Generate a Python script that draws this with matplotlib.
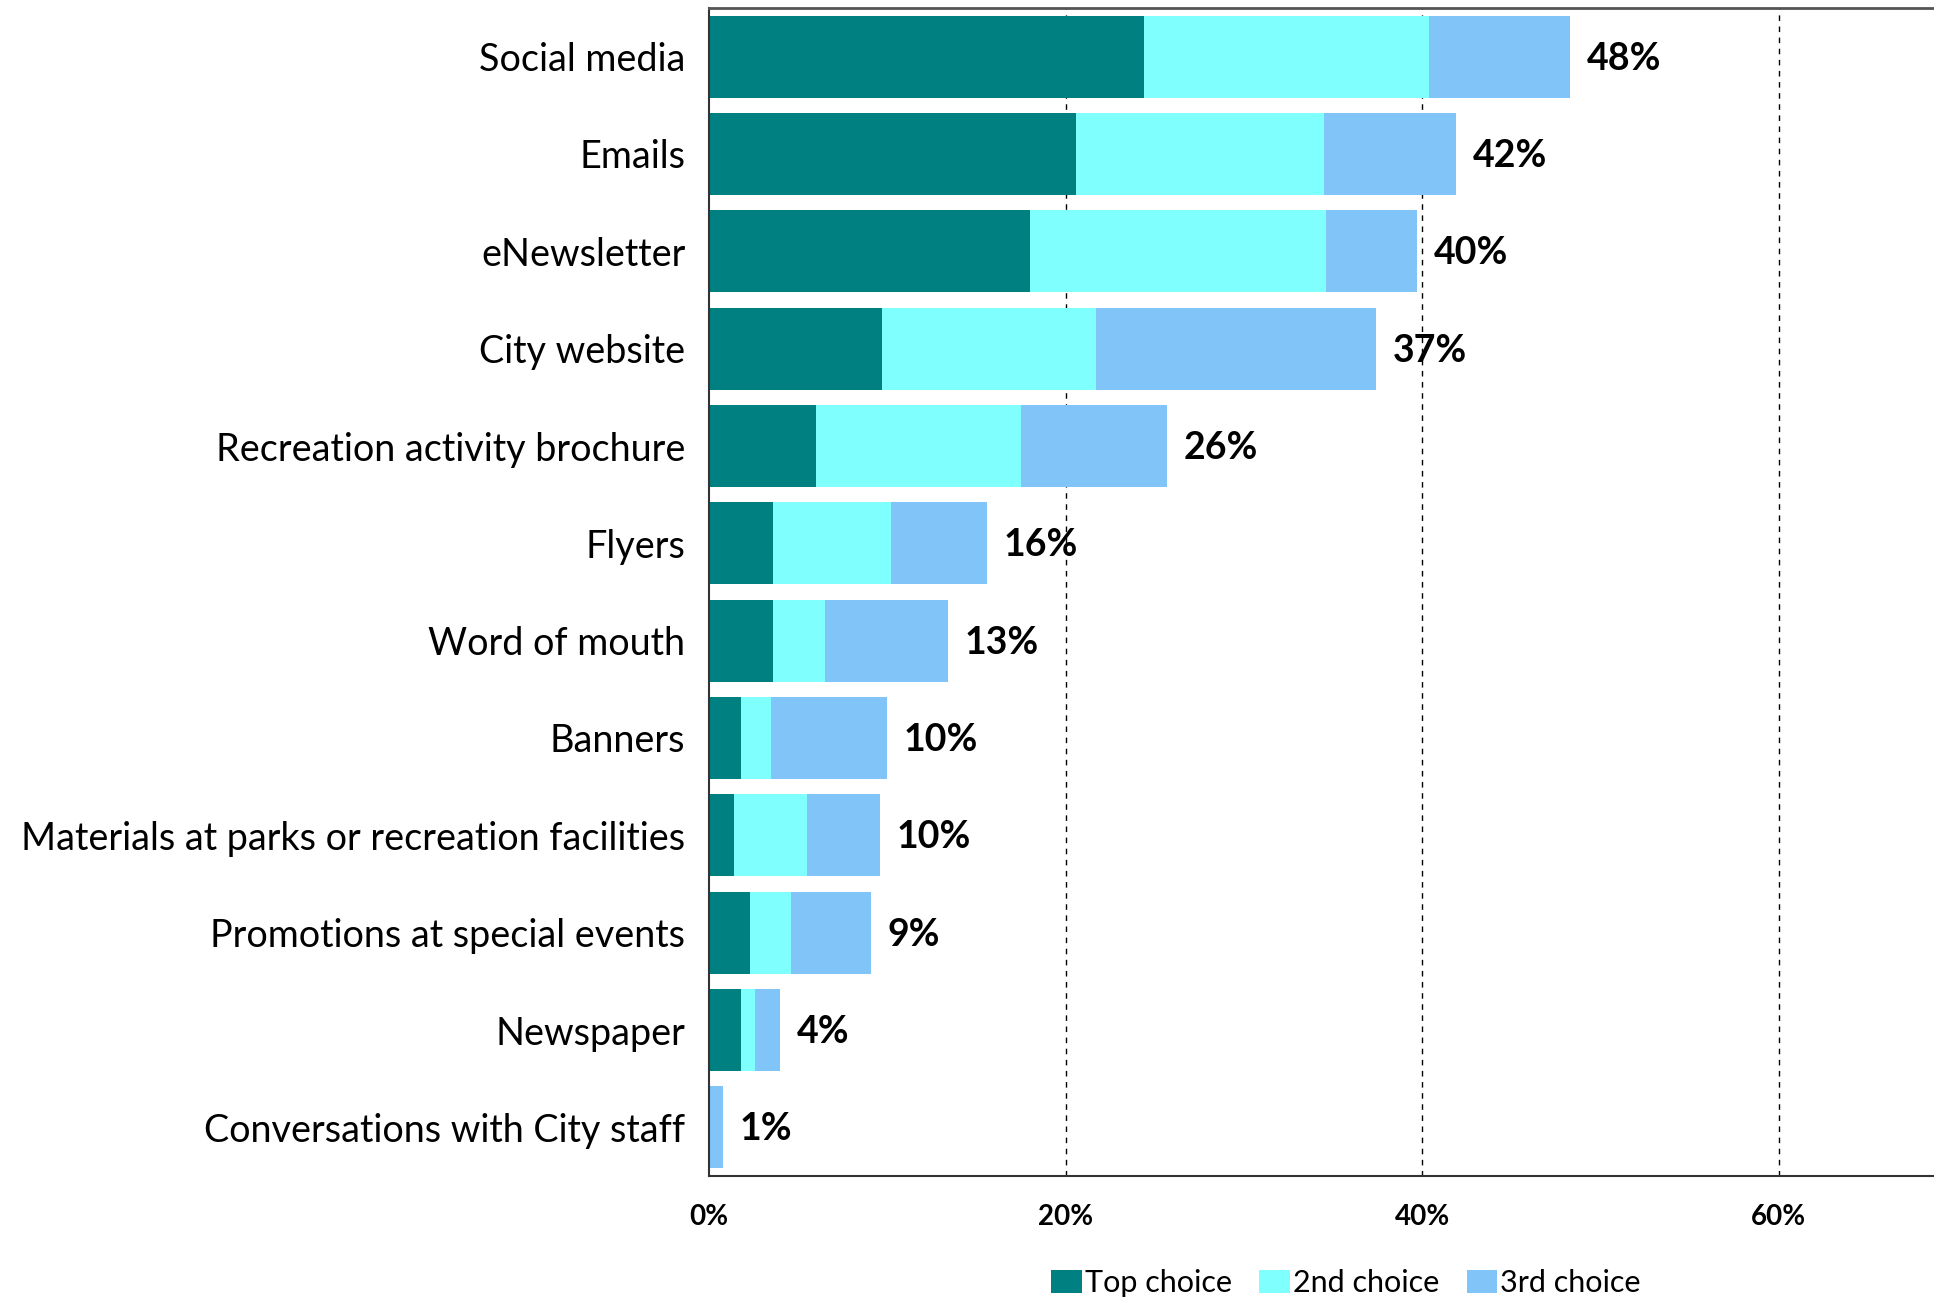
import matplotlib
matplotlib.use("Agg")
import matplotlib.pyplot as plt
from matplotlib.patches import Patch

plt.rcParams["font.family"] = ["Lato", "DejaVu Sans"]

categories = [
    "Social media",
    "Emails",
    "eNewsletter",
    "City website",
    "Recreation activity brochure",
    "Flyers",
    "Word of mouth",
    "Banners",
    "Materials at parks or recreation facilities",
    "Promotions at special events",
    "Newspaper",
    "Conversations with City staff",
]

# percent of respondents choosing each source as 1st / 2nd / 3rd choice
top_choice = [24.4, 20.6, 18.0, 9.7, 6.0, 3.6, 3.6, 1.8, 1.4, 2.3, 1.8, 0.0]
second_choice = [16.0, 13.9, 16.6, 12.0, 11.5, 6.6, 2.9, 1.7, 4.1, 2.3, 0.8, 0.0]
third_choice = [7.9, 7.4, 5.1, 15.7, 8.2, 5.4, 6.9, 6.5, 4.1, 4.5, 1.4, 0.8]

series_names = ["Top choice", "2nd choice", "3rd choice"]
colors = ["#008080", "#80FFFF", "#80C4F8"]

xticks = [0, 20, 40, 60]
xtick_labels = ["0%", "20%", "40%", "60%"]

fig = plt.figure(figsize=(19.34, 12.99), dpi=100)
ax = fig.add_axes([709 / 1934, 1 - 1176 / 1299, 1248 / 1934, (1176 - 8) / 1299])

y = list(range(len(categories)))
left = [0.0] * len(categories)
for vals, col in zip([top_choice, second_choice, third_choice], colors):
    ax.barh(y, vals, left=left, height=0.84, color=col, linewidth=0)
    left = [l + v for l, v in zip(left, vals)]

# total share printed at the end of each stacked bar
for yi, total in zip(y, left):
    ax.annotate(f"{round(total)}%", (total, yi), xytext=(12, -1.5),
                textcoords="offset points", va="center", ha="left",
                fontsize=27, fontweight="bold", color="black")

ax.set_xlim(0, 70)
ax.set_ylim(len(categories) - 0.5, -0.5)
ax.set_yticks(y)
ax.set_yticklabels(categories, fontsize=27.2)
ax.set_xticks(xticks)
ax.set_xticklabels(xtick_labels, fontsize=20, fontweight="bold")
ax.tick_params(axis="y", length=0, pad=17)
ax.tick_params(axis="x", length=0, pad=20)

for xv in xticks[1:]:
    ax.axvline(xv, color="black", linestyle=(0, (4, 4)), linewidth=1.0, zorder=0)

ax.spines["right"].set_visible(False)
for side in ["left", "bottom"]:
    ax.spines[side].set_color("#333333")
    ax.spines[side].set_linewidth(1.5)
ax.spines["top"].set_color("#555555")
ax.spines["top"].set_linewidth(2.0)

handles = [Patch(facecolor=c, edgecolor="none") for c in colors]
fig.legend(handles, series_names, loc="center", bbox_to_anchor=(1346 / 1934, 1 - 1283 / 1299),
           ncol=3, frameon=False, fontsize=22, handlelength=1.0, handleheight=0.8,
           handletextpad=0.1, columnspacing=0.9)

fig.savefig("out.png", dpi=100)
